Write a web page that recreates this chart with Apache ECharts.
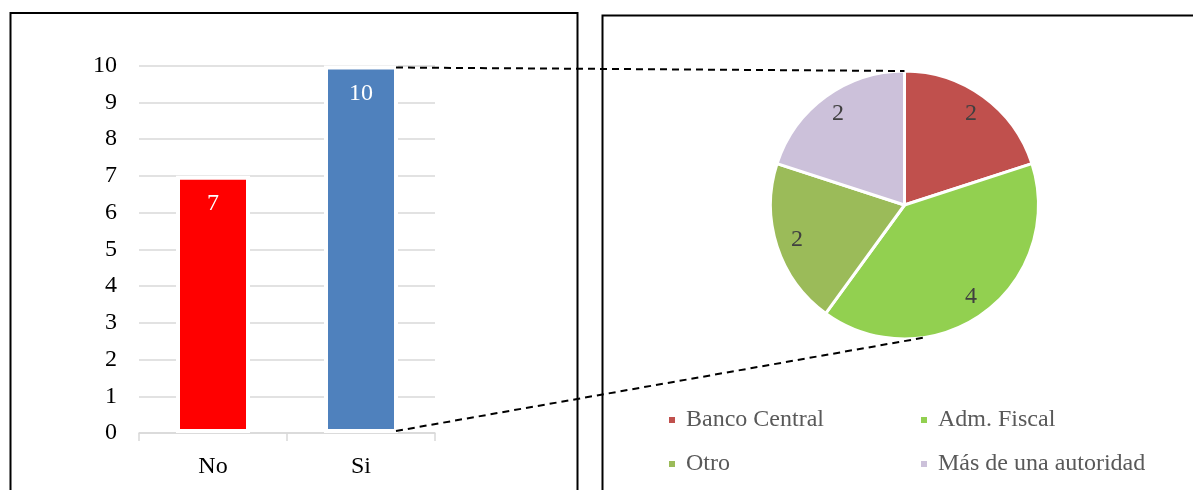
<!DOCTYPE html>
<html><head><meta charset="utf-8">
<script src="https://cdn.jsdelivr.net/npm/echarts@6/dist/echarts.min.js"></script>
<style>html,body{margin:0;padding:0;background:#fff}#c{width:1193px;height:490px}</style>
</head><body><div id="c"></div>
<script>
// ---- data ----
const barCategories = ['No', 'Si'];
const barValues = [7, 10];
const barColors = ['#ff0000', '#4f81bd'];
const yMin = 0, yMax = 10, yInterval = 1;
const pieNames = ['Banco Central', 'Adm. Fiscal', 'Otro', 'Más de una autoridad'];
const pieValues = [2, 4, 2, 2];
const pieColors = ['#c0504d', '#92d050', '#9bbb59', '#ccc1da'];
const legendCol1 = ['Banco Central', 'Otro'];
const legendCol2 = ['Adm. Fiscal', 'Más de una autoridad'];

// ---- layout ----
const FONT = "'Liberation Serif', 'Times New Roman', serif";
const PIE_CX = 904.5, PIE_CY = 205, PIE_R = 134;
const BOTTOM_LINK_ANGLE = 171; // degrees clockwise from top

const chart = echarts.init(document.getElementById('c'), null, {renderer: 'canvas'});

const pieData = pieNames.map((n, i) => ({name: n, value: pieValues[i], itemStyle: {color: pieColors[i]}}));
const pieLabelData = pieNames.map((n, i) => ({name: n, value: pieValues[i]}));

const legendCommon = {
  orient: 'vertical',
  icon: 'rect',
  padding: 0,
  itemWidth: 8,
  itemHeight: 8,
  itemGap: 20,
  selectedMode: false,
  textStyle: {fontFamily: FONT, fontSize: 24, color: '#595959', padding: [0, 0, 0, 5]}
};

const option = {
  animation: false,
  backgroundColor: '#fff',
  grid: {left: 139, right: 1193 - 435, top: 65.5, bottom: 490 - 433, containLabel: false},
  xAxis: {
    type: 'category',
    data: barCategories,
    axisLine: {lineStyle: {color: '#d9d9d9', width: 1.5}},
    axisTick: {show: true, length: 8, lineStyle: {color: '#d9d9d9', width: 1.5}},
    axisLabel: {fontFamily: FONT, fontSize: 24, color: '#000', margin: 22}
  },
  yAxis: {
    type: 'value',
    min: yMin, max: yMax, interval: yInterval,
    axisLine: {show: false},
    axisTick: {show: false},
    splitLine: {lineStyle: {color: '#d9d9d9', width: 1.5}},
    axisLabel: {fontFamily: FONT, fontSize: 24, color: '#000', margin: 22}
  },
  legend: [
    Object.assign({left: 667, top: 408, data: legendCol1}, legendCommon),
    Object.assign({left: 919, top: 408, data: legendCol2}, legendCommon)
  ],
  series: [
    {
      type: 'bar',
      barWidth: '50%',
      data: barValues.map((v, i) => ({value: v, itemStyle: {color: barColors[i]}})),
      itemStyle: {borderColor: '#fff', borderWidth: 4},
      label: {show: true, position: 'insideTop', distance: 16, fontFamily: FONT, fontSize: 24, color: '#fff'}
    },
    {
      type: 'pie',
      center: [PIE_CX, PIE_CY],
      radius: [0, PIE_R],
      startAngle: 90,
      clockwise: true,
      data: pieData,
      itemStyle: {borderColor: '#fff', borderWidth: 3},
      label: {show: false},
      labelLine: {show: false},
      emphasis: {disabled: true}
    },
    {
      type: 'pie',
      silent: true,
      center: [PIE_CX, PIE_CY],
      radius: [85, 135],
      startAngle: 90,
      clockwise: true,
      data: pieLabelData,
      itemStyle: {color: 'rgba(0,0,0,0)', borderWidth: 0},
      label: {show: true, position: 'inside', formatter: '{c}', fontFamily: FONT, fontSize: 24, color: '#404040'},
      labelLine: {show: false},
      emphasis: {disabled: true}
    }
  ]
};

chart.setOption(option);

// connector lines computed from the rendered bar and pie geometry
const barData = chart.getModel().getSeriesByIndex(0).getData();
const siIdx = barCategories.indexOf('Si');
const lay = barData.getItemLayout(siIdx);
const rightX = lay.x + lay.width - 2;
const topY = Math.min(lay.y, lay.y + lay.height) + 2;
const botY = Math.max(lay.y, lay.y + lay.height) - 2;
const a = BOTTOM_LINK_ANGLE * Math.PI / 180;
const pieTop = [PIE_CX, PIE_CY - PIE_R];
const pieBot = [PIE_CX + PIE_R * Math.sin(a), PIE_CY - PIE_R * Math.cos(a)];
const dashStyle = {stroke: '#000', lineWidth: 2, lineDash: [7, 5]};

chart.setOption({
  graphic: [
    {type: 'rect', z: 100, shape: {x: 10.5, y: 13, width: 567, height: 500}, style: {fill: 'none', stroke: '#000', lineWidth: 2}},
    {type: 'rect', z: 100, shape: {x: 602.5, y: 15.5, width: 620, height: 500}, style: {fill: 'none', stroke: '#000', lineWidth: 2}},
    {type: 'line', z: 101, shape: {x1: rightX, y1: topY, x2: pieTop[0], y2: pieTop[1]}, style: dashStyle},
    {type: 'line', z: 101, shape: {x1: rightX, y1: botY, x2: pieBot[0], y2: pieBot[1]}, style: dashStyle}
  ]
});
</script></body></html>
